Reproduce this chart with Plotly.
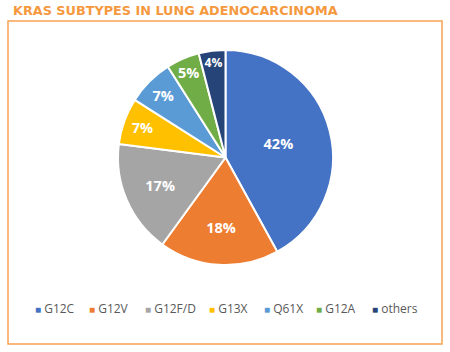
import plotly.graph_objects as go

categories = ["G12C", "G12V", "G12F/D", "G13X", "Q61X", "G12A", "others"]
values = [42, 18, 17, 7, 7, 5, 4]
colors = ["#4472C4", "#ED7D31", "#A5A5A5", "#FFC000", "#5B9BD5", "#70AD47", "#264478"]
title_text = "KRAS SUBTYPES IN LUNG ADENOCARCINOMA"

W, H = 450, 352
def px(x):
    return x / W
def py(y):
    return 1 - y / H

fig = go.Figure()
fig.add_trace(go.Pie(
    labels=categories, values=values, sort=False, direction="clockwise",
    rotation=0,
    marker=dict(colors=colors, line=dict(color="white", width=2)),
    texttemplate="%{value}%", textinfo="text",
    textposition="inside", insidetextorientation="horizontal",
    textfont=dict(family="Open Sans", size=14.5, color="white", weight="bold"),
    domain=dict(x=[px(118), px(333)], y=[py(265), py(50)]),
    showlegend=False, hoverinfo="label+percent",
))

annotations = [dict(
    text=title_text, x=px(11), y=py(10), xref="paper", yref="paper",
    xanchor="left", yanchor="middle", showarrow=False,
    font=dict(family="DejaVu Sans", size=12.8, color="#F5993F", weight="bold"),
)]
legend_x = [33, 87, 143, 207, 262, 314, 370]
for lx, c, lab in zip(legend_x, colors, categories):
    annotations.append(dict(
        text=f"<span style='color:{c};font-size:10px'>■</span> {lab}",
        x=px(lx), y=py(308), xref="paper", yref="paper",
        xanchor="left", yanchor="middle", showarrow=False,
        font=dict(family="Open Sans", size=12, color="#595959"),
    ))

fig.update_layout(
    width=W, height=H, margin=dict(l=0, r=0, t=0, b=0),
    paper_bgcolor="white", plot_bgcolor="white",
    annotations=annotations,
    shapes=[dict(type="rect", xref="paper", yref="paper",
                 x0=px(8), x1=px(442), y0=py(344), y1=py(21),
                 line=dict(color="#F7A351", width=1.5))],
)
fig.write_html("out.html")
